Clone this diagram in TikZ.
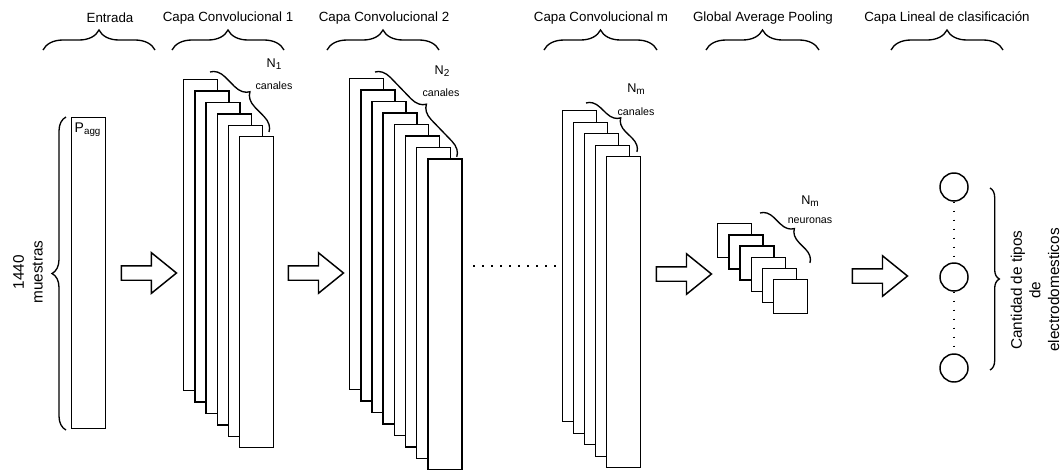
\documentclass[tikz,border=0pt]{standalone}
\usepackage{fontspec}
\setmainfont{Liberation Sans}
\usepackage{tikz}
\usetikzlibrary{decorations.pathreplacing,shapes.arrows}

\newcommand{\nsub}[1]{N\raisebox{-0.4ex}{\fontsize{7.5}{8}\selectfont #1}}

\begin{document}
\begin{tikzpicture}[
  x=0.75pt, y=-0.75pt, line width=1.1pt,
  fmap/.style={draw, fill=white, anchor=north west, inner sep=0pt,
               minimum width=25.5pt, minimum height=233.25pt},
  gapsq/.style={draw, fill=white, anchor=north west, inner sep=0pt, minimum size=25.5pt},
  neuron/.style={circle, draw, minimum size=21pt, inner sep=0pt},
  flecha/.style={single arrow, draw, inner sep=0pt, text height=9.75pt, text depth=0pt,
                 single arrow head extend=9.75pt, single arrow tip angle=78,
                 minimum height=41.25pt},
  llave/.style={decorate, decoration={brace, amplitude=#1}, line width=1pt},
  titulo/.style={font=\fontsize{10}{12}\selectfont},
  chico/.style={font=\fontsize{8}{9.6}\selectfont, inner sep=0pt},
  nlbl/.style={font=\fontsize{9.5}{11}\selectfont, inner sep=0pt},
  lado/.style={font=\fontsize{11.5}{14}\selectfont, align=center, rotate=90},
  puntos/.style={dash pattern=on 1.3pt off 5.45pt, line width=1.3pt},
]
  \useasboundingbox (0,0) rectangle (1063,469);

  %=================== titles + braces ===================
  \node[titulo] (tEnt) at (110,18) {Entrada};
  \node[titulo] (tC1)  at (228,18) {Capa Convolucional 1};
  \node[titulo] (tC2)  at (384,18) {Capa Convolucional 2};
  \node[titulo] (tCm)  at (601,18) {Capa Convolucional m};
  \node[titulo] (tGap) at (763,18) {Global Average Pooling};
  \node[titulo] (tLin) at (947,18) {Capa Lineal de clasificación};
  \foreach \a/\b in {43/155, 172/284, 327/439, 544/657, 706/819, 891/1003}
    \draw[llave=15pt] (\a,50) -- (\b,50);

  %=================== input ===================
  \node[fmap] (ent) at (71,117) {};
  \node[anchor=base west, inner sep=0pt, font=\fontsize{10.5}{12}\selectfont] (pagg) at (74,132) {P\textsubscript{agg}};
  \draw[llave=10.5pt] (66,430) -- (66,117);
  \node[lado] (muestras) at (28,272) {1440\\muestras};

  \node[flecha] (f1) at (144.5,273) {};

  %=================== conv layer 1 ===================
  \foreach \i in {0,...,5}
    \node[fmap] (c1-\i) at ({183+11.2*\i},{79+11.4*\i}) {};
  \draw[llave=11pt] (210,72) -- (269,132);
  \node[nlbl] (n1) at (274,64) {\nsub{1}};
  \node[chico] (can1) at (274,86) {canales};

  \node[flecha] (f2) at (311.5,273) {};

  %=================== conv layer 2 ===================
  \foreach \i in {0,...,7}
    \node[fmap] (c2-\i) at ({349+11.15*\i},{78+11.45*\i}) {};
  \draw[llave=11pt] (375,72) -- (457,157);
  \node[nlbl] (n2) at (442,71) {\nsub{2}};
  \node[chico] (can2) at (441,93) {canales};

  \draw[puntos] (473,266) -- (556,266);

  %=================== conv layer m ===================
  \foreach \i in {0,...,4}
    \node[fmap] (cm-\i) at ({562+11*\i},{110+11.5*\i}) {};
  \draw[llave=10pt] (586,103) -- (637,152);
  \node[nlbl] (nm) at (636,89) {\nsub{m}};
  \node[chico] (canm) at (636,112) {canales};

  \node[flecha] (f3) at (679.5,274) {};

  %=================== global average pooling ===================
  \foreach \i in {0,...,5}
    \node[gapsq] (g-\i) at ({717+11.2*\i},{223+11.2*\i}) {};
  \draw[llave=10pt] (760,213) -- (810,263);
  \node[nlbl] (ng) at (810,201) {\nsub{m}};
  \node[chico] (neur) at (810,221) {neuronas};

  \node[flecha] (f4) at (875.5,276) {};

  %=================== linear output ===================
  \node[neuron] (o1) at (954,187) {};
  \node[neuron] (o2) at (954,277) {};
  \node[neuron] (o3) at (954,368) {};
  \draw[puntos] (o1.south) -- (o2.north);
  \draw[puntos] (o2.south) -- (o3.north);
  \draw[llave=7pt] (990,188) -- (990,370);
  \node[lado] (cant) at (1035,290) {Cantidad de tipos\\de\\electrodomesticos};
\end{tikzpicture}
\end{document}
